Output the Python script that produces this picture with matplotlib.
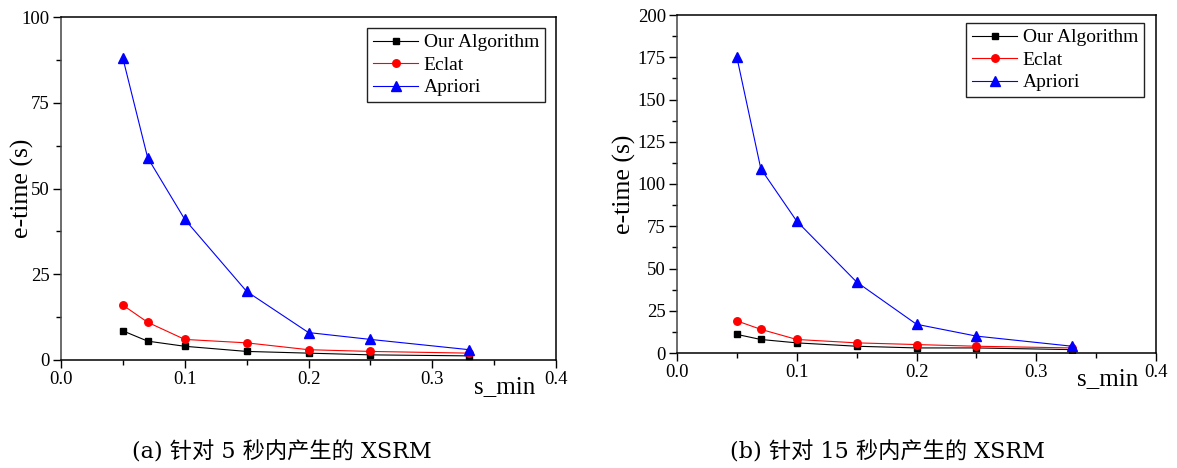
import matplotlib
matplotlib.use("Agg")
import matplotlib.pyplot as plt
from matplotlib.ticker import MultipleLocator, FormatStrFormatter

x_vals = [0.05, 0.07, 0.1, 0.15, 0.2, 0.25, 0.33]

a_our = [8.5, 5.5, 4.0, 2.5, 2.0, 1.5, 1.2]
a_eclat = [16, 11, 6, 5, 3, 2.5, 2]
a_apriori = [88, 59, 41, 20, 8, 6, 3]

b_our = [11, 8, 6, 4, 3, 3, 2]
b_eclat = [19, 14, 8, 6, 5, 4, 3]
b_apriori = [175, 109, 78, 42, 17, 10, 4]

series_names = ["Our Algorithm", "Eclat", "Apriori"]
captions = ["(a) 针对 5 秒内产生的 XSRM", "(b) 针对 15 秒内产生的 XSRM"]
x_label = "s_min"
y_label = "e-time (s)"

plt.rcParams['font.family'] = ['Liberation Serif', 'Noto Sans CJK SC']

fig = plt.figure(figsize=(11.77, 4.68), dpi=100)
W, H = 1177, 468

def make_axes(l, r, t, b):
    return fig.add_axes([l / W, 1 - b / H, (r - l) / W, (b - t) / H])

ax1 = make_axes(61, 556, 17, 360)
ax2 = make_axes(677, 1156, 15, 353)

configs = [
    (ax1, a_our, a_eclat, a_apriori, 100, 34, (61, 556, 17, 360), (545, 28), 393),
    (ax2, b_our, b_eclat, b_apriori, 200, 636, (677, 1156, 15, 353), (1144, 23), 385),
]

for ax, our, ecl, apr, ymax, ylx, box, legpos, sbase in configs:
    l, r, t, b = box
    ax.plot(x_vals, our, color='black', marker='s', markersize=4.8, lw=0.8, label=series_names[0])
    ax.plot(x_vals, ecl, color='red', marker='o', markersize=5.4, lw=0.8, label=series_names[1])
    ax.plot(x_vals, apr, color='blue', marker='^', markersize=6.5, lw=0.8, label=series_names[2])
    ax.set_xlim(0, 0.4)
    ax.set_ylim(0, ymax)
    ax.xaxis.set_major_locator(MultipleLocator(0.1))
    ax.xaxis.set_minor_locator(MultipleLocator(0.05))
    ax.yaxis.set_major_locator(MultipleLocator(25))
    ax.yaxis.set_minor_locator(MultipleLocator(12.5))
    ax.xaxis.set_major_formatter(FormatStrFormatter('%.1f'))
    ax.tick_params(which='major', direction='out', length=6, width=1, labelsize=13.5,
                   top=False, right=False, pad=2)
    ax.tick_params(which='minor', direction='out', length=3.5, width=1, top=False, right=False)
    for s in ax.spines.values():
        s.set_linewidth(1.1)
    ax.spines['left'].set_color('#444444')
    ax.set_ylabel(y_label, fontsize=18.5)
    ax.yaxis.set_label_coords((ylx - l) / (r - l), 0.5)
    ax.text(0.334, -(sbase - b) / (b - t), x_label, fontsize=18, ha='left',
            va='baseline', transform=ax.get_xaxis_transform())
    leg = ax.legend(loc='upper right', fontsize=14, frameon=True, fancybox=False,
                    edgecolor='#222222', framealpha=1, handlelength=2.3, handletextpad=0.3,
                    borderpad=0.3, labelspacing=0.25, borderaxespad=0,
                    bbox_to_anchor=((legpos[0] - l) / (r - l), 1 - (legpos[1] - t) / (b - t)))
    leg.get_frame().set_linewidth(1)

fig.text(282 / W, 1 - 452 / H, captions[0], fontsize=16, ha='center', va='center',
         family=['DejaVu Serif', 'Noto Sans CJK SC'])
fig.text(887 / W, 1 - 452 / H, captions[1], fontsize=16, ha='center', va='center',
         family=['DejaVu Serif', 'Noto Sans CJK SC'])

fig.savefig("out.png", dpi=100)
